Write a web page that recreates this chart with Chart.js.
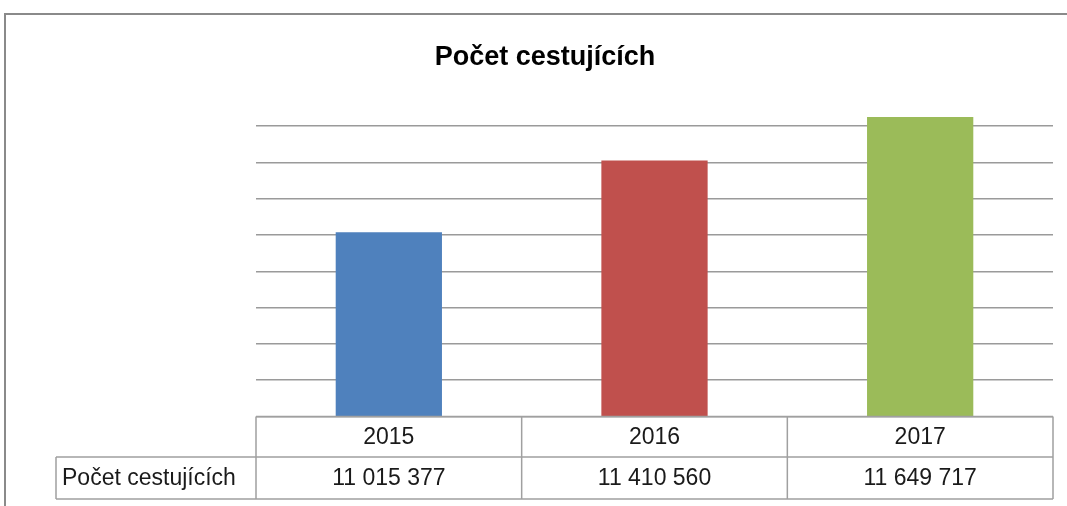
<!DOCTYPE html>
<html>
<head>
<meta charset="utf-8">
<script src="https://cdn.jsdelivr.net/npm/chart.js@4"></script>
<style>
  html, body { margin: 0; padding: 0; background: #fff; }
  #wrap { width: 1067px; height: 506px; position: relative; }
</style>
</head>
<body>
<div id="wrap"><canvas id="c" width="1067" height="506"></canvas></div>
<script>
const categories = ['2015', '2016', '2017'];
const seriesName = 'Počet cestujících';
const values = [11015377, 11410560, 11649717];
const valueLabels = ['11 015 377', '11 410 560', '11 649 717'];
const barColors = ['#4f81bd', '#c0504d', '#9bbb59'];
const axisMin = 10000000;
const axisMax = 11700000;
const gridValues = [10000000, 10200000, 10400000, 10600000, 10800000, 11000000, 11200000, 11400000, 11600000];

const FONT = "'Liberation Sans', Arial, sans-serif";

const frameAndTable = {
  id: 'frameAndTable',
  afterDraw(chart) {
    const ctx = chart.ctx;
    const x = chart.scales.x;
    const area = chart.chartArea;
    const n = categories.length;
    const row1Top = area.bottom;
    const row1Bot = 457;
    const row2Bot = 499;
    const labelLeft = 56;

    ctx.save();
    ctx.strokeStyle = '#8a8a8a';
    ctx.lineWidth = 2;
    ctx.beginPath();
    ctx.moveTo(5, 506);
    ctx.lineTo(5, 14);
    ctx.lineTo(1067, 14);
    ctx.stroke();

    const bounds = [area.left];
    for (let i = 0; i < n - 1; i++) {
      bounds.push((x.getPixelForValue(i) + x.getPixelForValue(i + 1)) / 2);
    }
    bounds.push(area.right);

    ctx.strokeStyle = '#a0a0a0';
    ctx.lineWidth = 1.5;
    ctx.beginPath();
    ctx.moveTo(area.left, row1Top); ctx.lineTo(area.right, row1Top);
    ctx.moveTo(labelLeft, row1Bot); ctx.lineTo(area.right, row1Bot);
    ctx.moveTo(labelLeft, row2Bot); ctx.lineTo(area.right, row2Bot);
    ctx.moveTo(labelLeft, row1Bot); ctx.lineTo(labelLeft, row2Bot);
    bounds.forEach(b => { ctx.moveTo(b, row1Top); ctx.lineTo(b, row2Bot); });
    ctx.stroke();

    ctx.fillStyle = '#1a1a1a';
    ctx.font = '23px ' + FONT;
    ctx.textBaseline = 'middle';
    ctx.textAlign = 'center';
    categories.forEach((c, i) => {
      const cx = x.getPixelForValue(i);
      ctx.fillText(c, cx, (row1Top + row1Bot) / 2 + 1);
      ctx.fillText(valueLabels[i], cx, (row1Bot + row2Bot) / 2 + 1);
    });
    ctx.textAlign = 'left';
    ctx.fillText(seriesName, 62, (row1Bot + row2Bot) / 2 + 1);
    ctx.restore();
  }
};

new Chart(document.getElementById('c'), {
  type: 'bar',
  data: {
    labels: categories,
    datasets: [{
      label: seriesName,
      data: values,
      backgroundColor: barColors,
      borderWidth: 0,
      barPercentage: 0.4,
      categoryPercentage: 1.0
    }]
  },
  options: {
    responsive: false,
    animation: false,
    devicePixelRatio: 1,
    layout: { padding: { left: 37, right: 14, top: 0, bottom: 89.5 } },
    plugins: {
      legend: { display: false },
      tooltip: { enabled: false },
      title: {
        display: true,
        text: seriesName,
        color: '#000',
        font: { family: FONT, size: 27, weight: 'bold' },
        padding: { top: 41, bottom: 34.6 }
      }
    },
    scales: {
      x: { display: false },
      y: {
        min: axisMin,
        max: axisMax,
        afterFit(scale) { scale.width = 219; },
        afterBuildTicks(scale) { scale.ticks = gridValues.map(v => ({ value: v })); },
        ticks: { display: false },
        border: { display: false },
        grid: {
          drawTicks: false,
          lineWidth: 1.5,
          color: '#9a9a9a'
        }
      }
    }
  },
  plugins: [frameAndTable]
});
</script>
</body>
</html>
